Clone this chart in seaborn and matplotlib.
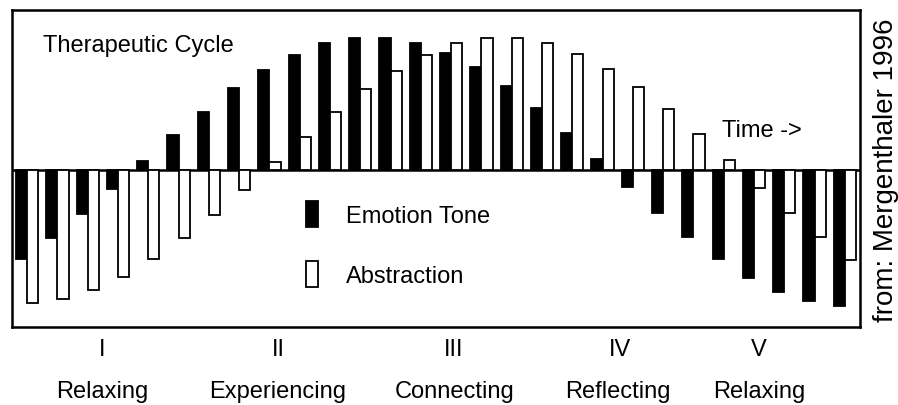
import numpy as np
import pandas as pd
import matplotlib
matplotlib.use("Agg")
import matplotlib.pyplot as plt
import matplotlib.transforms as mtransforms
from matplotlib.patches import Patch
import seaborn as sns

# bar heights (arbitrary units, 0 = baseline)
emotion_tone = [-89, -68, -44, -19, 9, 35, 58, 82, 100, 115, 127, 132, 132, 127,
                117, 103, 84, 62, 37, 11, -17, -43, -67, -89, -108, -122, -131, -136]
abstraction = [-133, -129, -120, -107, -89, -68, -45, -20, 8, 33, 58, 81, 99, 115,
               127, 132, 132, 127, 116, 101, 83, 61, 36, 10, -18, -43, -67, -90]
series_names = ["Emotion Tone", "Abstraction"]
phase_numerals = ["I", "II", "III", "IV", "V"]
phase_names = ["Relaxing", "Experiencing", "Connecting", "Reflecting", "Relaxing"]

steps = list(range(len(emotion_tone)))
df = pd.DataFrame({
    "step": steps * 2,
    "value": emotion_tone + abstraction,
    "series": [series_names[0]] * len(steps) + [series_names[1]] * len(steps),
})

sns.set_style("white")
plt.rcParams["font.family"] = ["Liberation Sans", "DejaVu Sans"]
plt.rcParams["text.color"] = "black"
plt.rcParams["xtick.color"] = "black"

fig = plt.figure(figsize=(8.98, 4.06), dpi=100)
ax = fig.add_axes([12 / 898, 78 / 406, 848 / 898, 317 / 406])

sns.barplot(data=df, x="step", y="value", hue="series", hue_order=series_names,
            palette={series_names[0]: "black", series_names[1]: "white"},
            edgecolor="black", linewidth=1.3, width=0.74, ax=ax, legend=False)

ax.axhline(0, color="black", lw=1.8, zorder=0.5)
ax.set_xlim(-0.5, len(steps) - 0.5)
ax.set_ylim(-157, 160)
ax.set_xlabel("")
ax.set_ylabel("")
ax.set_yticks([])
for s in ax.spines.values():
    s.set_visible(True)
    s.set_color("black")
    s.set_linewidth(1.8)

# phase labels under the frame
numeral_pos = [2.48, 8.29, 14.07, 19.59, 24.15]
name_pos = [2.48, 8.26, 14.1, 19.52, 24.18]
ax.set_xticks(numeral_pos)
ax.set_xticklabels(phase_numerals, fontsize=17)
ax.tick_params(axis="x", length=0, pad=8)
trans = mtransforms.blended_transform_factory(ax.transData, ax.transAxes)
for x, name in zip(name_pos, phase_names):
    ax.text(x, -0.221, name, transform=trans, ha="center", va="baseline", fontsize=17)

ax.text(0.0366, 0.871, "Therapeutic Cycle", transform=ax.transAxes,
        ha="left", va="baseline", fontsize=17)
ax.text(0.837, 0.6025, "Time ->", transform=ax.transAxes,
        ha="left", va="baseline", fontsize=17)
fig.text(0.987, 0.581, "from: Mergenthaler 1996", rotation=90,
         ha="center", va="center", fontsize=20)

handles = [Patch(facecolor="black", edgecolor="black", lw=1.3),
           Patch(facecolor="white", edgecolor="black", lw=1.3)]
ax.legend(handles, series_names, loc="upper left", bbox_to_anchor=(0.347, 0.398),
          frameon=False, fontsize=17, handlelength=0.5, handleheight=1.3,
          handletextpad=1.2, labelspacing=1.45, borderpad=0, borderaxespad=0)

fig.savefig("out.png", dpi=100)
